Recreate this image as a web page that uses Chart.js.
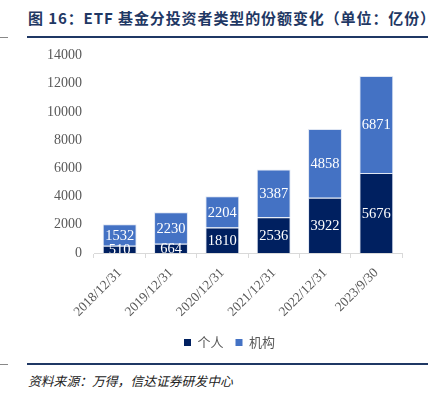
<!DOCTYPE html>
<html lang="zh-CN">
<head>
    <meta charset="UTF-8">
    <title>ETF 基金分投资者类型的份额变化</title>
    <script src="https://cdn.jsdelivr.net/npm/chart.js"></script>
    <style>
        body { margin: 0; width: 435px; height: 397px; background: #fff; position: relative; overflow: hidden; font-family: "Noto Sans CJK SC", sans-serif; }
        .title { position: absolute; left: 28px; top: 7px; font-size: 15px; font-weight: bold; letter-spacing: 0.9px; color: #1F3864; white-space: nowrap; }
        .rule { position: absolute; left: 27px; width: 401px; background: #1F3864; }
        .dash { position: absolute; left: 0; width: 8px; height: 1px; background: #888; }
        .source { position: absolute; left: 28px; top: 371px; font-size: 12.8px; font-style: italic; color: #222; white-space: nowrap; }
        #wrap { position: absolute; left: 0; top: 35px; width: 435px; height: 326px; }
    </style>
</head>
<body>
    <div class="title">图 16：ETF 基金分投资者类型的份额变化（单位：亿份）</div>
    <div class="rule" style="top:36px;height:2px"></div>
    <div class="dash" style="top:37px"></div>
    <div id="wrap"><canvas id="etfChart"></canvas></div>
    <div class="rule" style="top:363px;height:2px"></div>
    <div class="dash" style="top:364px"></div>
    <div class="source">资料来源：万得，信达证券研发中心</div>
    <script>
const categories = ['2018/12/31', '2019/12/31', '2020/12/31', '2021/12/31', '2022/12/31', '2023/9/30'];
const personal = [510, 664, 1810, 2536, 3922, 5676];
const institution = [1532, 2230, 2204, 3387, 4858, 6871];
const yTicks = [0, 2000, 4000, 6000, 8000, 10000, 12000, 14000];

// white value labels in the middle of each segment
const barLabels = {
    id: 'barLabels',
    afterDatasetsDraw(chart) {
        const ctx = chart.ctx;
        const area = chart.chartArea;
        ctx.save();
        ctx.beginPath();
        ctx.rect(area.left, area.top, area.right - area.left, area.bottom - area.top);
        ctx.clip();
        ctx.font = '14.5px "Liberation Serif"';
        ctx.fillStyle = '#fff';
        ctx.textAlign = 'center';
        ctx.textBaseline = 'middle';
        chart.data.datasets.forEach((ds, i) => {
            chart.getDatasetMeta(i).data.forEach((bar, j) => {
                const p = bar.getCenterPoint();
                ctx.fillText(ds.data[j], p.x, p.y + 1);
            });
        });
        ctx.restore();
    }
};

const ctx = document.getElementById('etfChart').getContext('2d');
new Chart(ctx, {
    type: 'bar',
    data: {
        labels: categories,
        datasets: [
            {
                label: '个人',
                data: personal,
                backgroundColor: '#002060',
                borderColor: '#dfe6f3',
                borderWidth: 1
            },
            {
                label: '机构',
                data: institution,
                backgroundColor: '#4472C4',
                borderColor: '#dfe6f3',
                borderWidth: 1
            }
        ]
    },
    options: {
        responsive: true,
        maintainAspectRatio: false,
        animation: false,
        layout: { padding: { left: 29, right: 5, top: 10, bottom: 2 } },
        datasets: { bar: { categoryPercentage: 1, barPercentage: 0.66 } },
        scales: {
            x: {
                stacked: true,
                grid: { display: true, drawOnChartArea: false, drawTicks: true, tickLength: 5, color: '#d9d9d9', offset: true },
                border: { color: '#d9d9d9' },
                ticks: {
                    maxRotation: 45, minRotation: 45, padding: 7,
                    color: '#595959',
                    font: { family: '"Liberation Serif"', size: 13.5 }
                },
                afterFit(scale) { scale.height = 71; }
            },
            y: {
                stacked: true,
                min: 0,
                max: 14000,
                afterBuildTicks(scale) { scale.ticks = yTicks.map(v => ({ value: v })); },
                grid: { display: false, drawTicks: false },
                border: { display: false },
                ticks: {
                    padding: 12,
                    color: '#595959',
                    font: { family: '"Liberation Serif"', size: 14 },
                    callback: v => String(v)
                },
                afterFit(scale) { scale.width = 65; }
            },
            // empty right margin so the legend sits where the original has it
            spacer: {
                position: 'right',
                grid: { display: false, drawTicks: false },
                border: { display: false },
                ticks: { display: false },
                afterFit(scale) { scale.width = 28; }
            }
        },
        plugins: {
            legend: {
                position: 'bottom',
                labels: {
                    boxWidth: 7,
                    boxHeight: 7,
                    padding: 12,
                    color: '#595959',
                    font: { family: '"Noto Sans CJK SC"', size: 13 },
                    generateLabels(chart) {
                        const items = Chart.defaults.plugins.legend.labels.generateLabels(chart);
                        items.forEach(it => { it.strokeStyle = it.fillStyle; it.lineWidth = 0; });
                        return items;
                    }
                }
            },
            tooltip: { enabled: false }
        }
    },
    plugins: [barLabels]
});
    </script>
</body>
</html>
